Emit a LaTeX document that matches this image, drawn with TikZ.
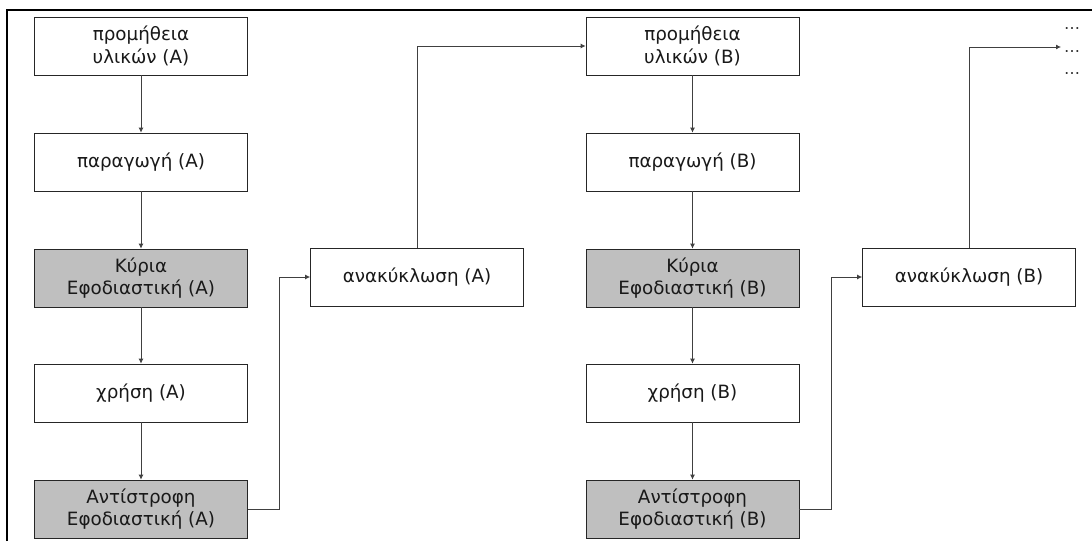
\documentclass[tikz,border=0pt]{standalone}
\usepackage{fontspec}
\setmainfont{DejaVu Sans}
\usetikzlibrary{arrows.meta}
\begin{document}
\begin{tikzpicture}[x=1pt,y=-1pt,
  box/.style={draw=black!85, line width=0.8pt, fill=white,
    minimum width=213pt, minimum height=58pt, inner sep=0pt,
    align=center, font=\fontsize{18.3}{22.5}\selectfont, text=black!90},
  greybox/.style={box, fill=black!25},
  link/.style={draw=black!75, line width=0.8pt,
    -{Latex[length=5pt,width=5pt]}},
  dots/.style={anchor=base, inner sep=0pt, font=\fontsize{16}{18}\selectfont, text=black!80}]
\useasboundingbox (0,0) rectangle (1092,541);
% page frame
\draw[line width=2pt] (7,541) -- (7,10) -- (1092,10);

% chain A
\node[box]     (a1) at (141,46)  {προμήθεια\\υλικών (A)};
\node[box]     (a2) at (141,162) {παραγωγή (A)};
\node[greybox] (a3) at (141,278) {Κύρια\\Εφοδιαστική (A)};
\node[box]     (a4) at (141,393) {χρήση (A)};
\node[greybox] (a5) at (141,509) {Αντίστροφη\\Εφοδιαστική (A)};
\node[box]     (ra) at (417,277) {ανακύκλωση (A)};

% chain B
\node[box]     (b1) at (692.5,46)  {προμήθεια\\υλικών (B)};
\node[box]     (b2) at (692.5,162) {παραγωγή (B)};
\node[greybox] (b3) at (692.5,278) {Κύρια\\Εφοδιαστική (B)};
\node[box]     (b4) at (692.5,393) {χρήση (B)};
\node[greybox] (b5) at (692.5,509) {Αντίστροφη\\Εφοδιαστική (B)};
\node[box]     (rb) at (969,277) {ανακύκλωση (B)};

% continuation marks
\node[dots] (d1) at (1072,29.5) {…};
\node[dots] (d2) at (1072,52)   {…};
\node[dots] (d3) at (1072,74.5) {…};
\coordinate (more) at (1061,47);

% flow A
\draw[link] (a1) -- (a2);
\draw[link] (a2) -- (a3);
\draw[link] (a3) -- (a4);
\draw[link] (a4) -- (a5);
\draw[link] (a5.east) -- ++(31,0) |- (ra.west);
\draw[link] (ra.north) |- (b1.west);

% flow B
\draw[link] (b1) -- (b2);
\draw[link] (b2) -- (b3);
\draw[link] (b3) -- (b4);
\draw[link] (b4) -- (b5);
\draw[link] (b5.east) -- ++(32,0) |- (rb.west);
\draw[link] (rb.north) |- (more);
\end{tikzpicture}
\end{document}
